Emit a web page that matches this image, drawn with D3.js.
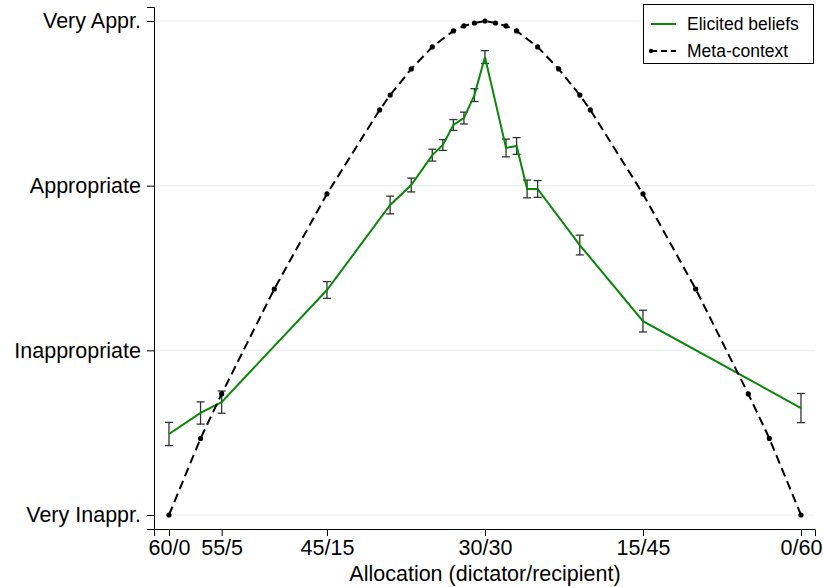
<!DOCTYPE html>
<html><head><meta charset="utf-8">
<script src="https://cdn.jsdelivr.net/npm/d3@7"></script>
<style>body{margin:0;background:#fff}svg{display:block}text{font-family:Arial,"Liberation Sans",sans-serif}</style>
</head><body><svg id="c" width="823" height="587"></svg>
<script>
// Allocation to recipient (0..60); label = dictator/recipient
const tickValues = [0, 5, 15, 30, 45, 60];
const tickLabels = ["60/0", "55/5", "45/15", "30/30", "15/45", "0/60"];
const yTickValues = [-1, -1/3, 1/3, 1];
const yTickLabels = ["Very Inappr.", "Inappropriate", "Appropriate", "Very Appr."];

const beliefX = [0, 3, 5, 15, 21, 23, 25, 26, 27, 28, 29, 30, 32, 33, 34, 35, 39, 45, 60];
const beliefMean = [-0.672, -0.587, -0.543, -0.089, 0.255, 0.336, 0.457, 0.498, 0.579, 0.607, 0.700, 0.854, 0.486, 0.494, 0.320, 0.320, 0.093, -0.215, -0.567];
const beliefLo = [-0.719, -0.632, -0.588, -0.123, 0.219, 0.308, 0.433, 0.476, 0.557, 0.583, 0.674, 0.828, 0.450, 0.460, 0.284, 0.286, 0.053, -0.259, -0.626];
const beliefHi = [-0.625, -0.542, -0.498, -0.055, 0.291, 0.364, 0.481, 0.520, 0.601, 0.631, 0.726, 0.880, 0.522, 0.528, 0.356, 0.354, 0.133, -0.171, -0.508];

const metaX = [0, 3, 5, 10, 15, 20, 21, 23, 25, 27, 28, 29, 30, 31, 32, 33, 35, 37, 39, 40, 45, 50, 55, 57, 60];
const metaY = [-1, -0.69, -0.51, -0.085, 0.30, 0.64, 0.70, 0.806, 0.895, 0.96, 0.98, 0.992, 1, 0.992, 0.98, 0.96, 0.895, 0.806, 0.70, 0.64, 0.30, -0.085, -0.51, -0.69, -1];

const legendLabels = ["Elicited beliefs", "Meta-context"];

const svg = d3.select("#c");
const x = d3.scaleLinear().domain([-1.42, 61.33]).range([154, 815]);
const y = d3.scaleLinear().domain([-1.0567, 1.0567]).range([529, 7]);

// grid
svg.append("g").selectAll("line").data(yTickValues).join("line")
  .attr("x1", 155).attr("x2", 815).attr("y1", d => y(d)).attr("y2", d => y(d))
  .attr("stroke", "#e9eff2").attr("stroke-width", 1.2);

// axes
const xAxis = d3.axisBottom(x).tickValues(tickValues).tickFormat((d, i) => tickLabels[i]).tickSizeOuter(0).tickSize(7).tickPadding(4);
const gx = svg.append("g").attr("transform", "translate(0,529)").call(xAxis);
gx.selectAll("text").attr("font-size", 21.5).attr("fill", "#000");
gx.selectAll("line,path").attr("stroke", "#000");

const yAxis = d3.axisLeft(y).tickValues(yTickValues).tickFormat((d, i) => yTickLabels[i]).tickSizeOuter(0).tickSize(7).tickPadding(6);
const gy = svg.append("g").attr("transform", "translate(154,0)").call(yAxis);
gy.selectAll("text").attr("font-size", 21.5).attr("fill", "#000");
gy.selectAll("line,path").attr("stroke", "#000");

svg.append("text").attr("x", 485).attr("y", 581).attr("text-anchor", "middle")
  .attr("font-size", 21.5).text("Allocation (dictator/recipient)");

// error bars
const eb = svg.append("g").attr("stroke", "#333").attr("stroke-width", 1.3).attr("fill", "none");
beliefX.forEach((v, i) => {
  const cx = x(v), y0 = y(beliefLo[i]), y1 = y(beliefHi[i]);
  eb.append("line").attr("x1", cx).attr("x2", cx).attr("y1", y0).attr("y2", y1);
  eb.append("line").attr("x1", cx - 4).attr("x2", cx + 4).attr("y1", y0).attr("y2", y0);
  eb.append("line").attr("x1", cx - 4).attr("x2", cx + 4).attr("y1", y1).attr("y2", y1);
});

// elicited beliefs line
const line = d3.line().x(d => x(d[0])).y(d => y(d[1]));
svg.append("path").datum(beliefX.map((v, i) => [v, beliefMean[i]]))
  .attr("d", line).attr("fill", "none").attr("stroke", "#0a870a").attr("stroke-width", 2);

// meta-context
svg.append("path").datum(metaX.map((v, i) => [v, metaY[i]]))
  .attr("d", line).attr("fill", "none").attr("stroke", "#000").attr("stroke-width", 2)
  .attr("stroke-dasharray", "9,5");
svg.append("g").selectAll("circle").data(metaX).join("circle")
  .attr("cx", d => x(d)).attr("cy", (d, i) => y(metaY[i])).attr("r", 2.6).attr("fill", "#000");

// legend
const lg = svg.append("g");
lg.append("rect").attr("x", 643.5).attr("y", 4.5).attr("width", 170).attr("height", 59)
  .attr("fill", "#fff").attr("stroke", "#000").attr("stroke-width", 1);
lg.append("line").attr("x1", 651).attr("x2", 676).attr("y1", 24).attr("y2", 24)
  .attr("stroke", "#0a870a").attr("stroke-width", 2);
lg.append("line").attr("x1", 651).attr("x2", 676).attr("y1", 51).attr("y2", 51)
  .attr("stroke", "#000").attr("stroke-width", 2).attr("stroke-dasharray", "6,4");
lg.append("circle").attr("cx", 651).attr("cy", 51).attr("r", 2.2).attr("fill", "#000");
lg.selectAll("text").data(legendLabels).join("text")
  .attr("x", 687).attr("y", (d, i) => 24 + i * 27).attr("dy", "0.35em")
  .attr("font-size", 17.5).text(d => d);
</script></body></html>
